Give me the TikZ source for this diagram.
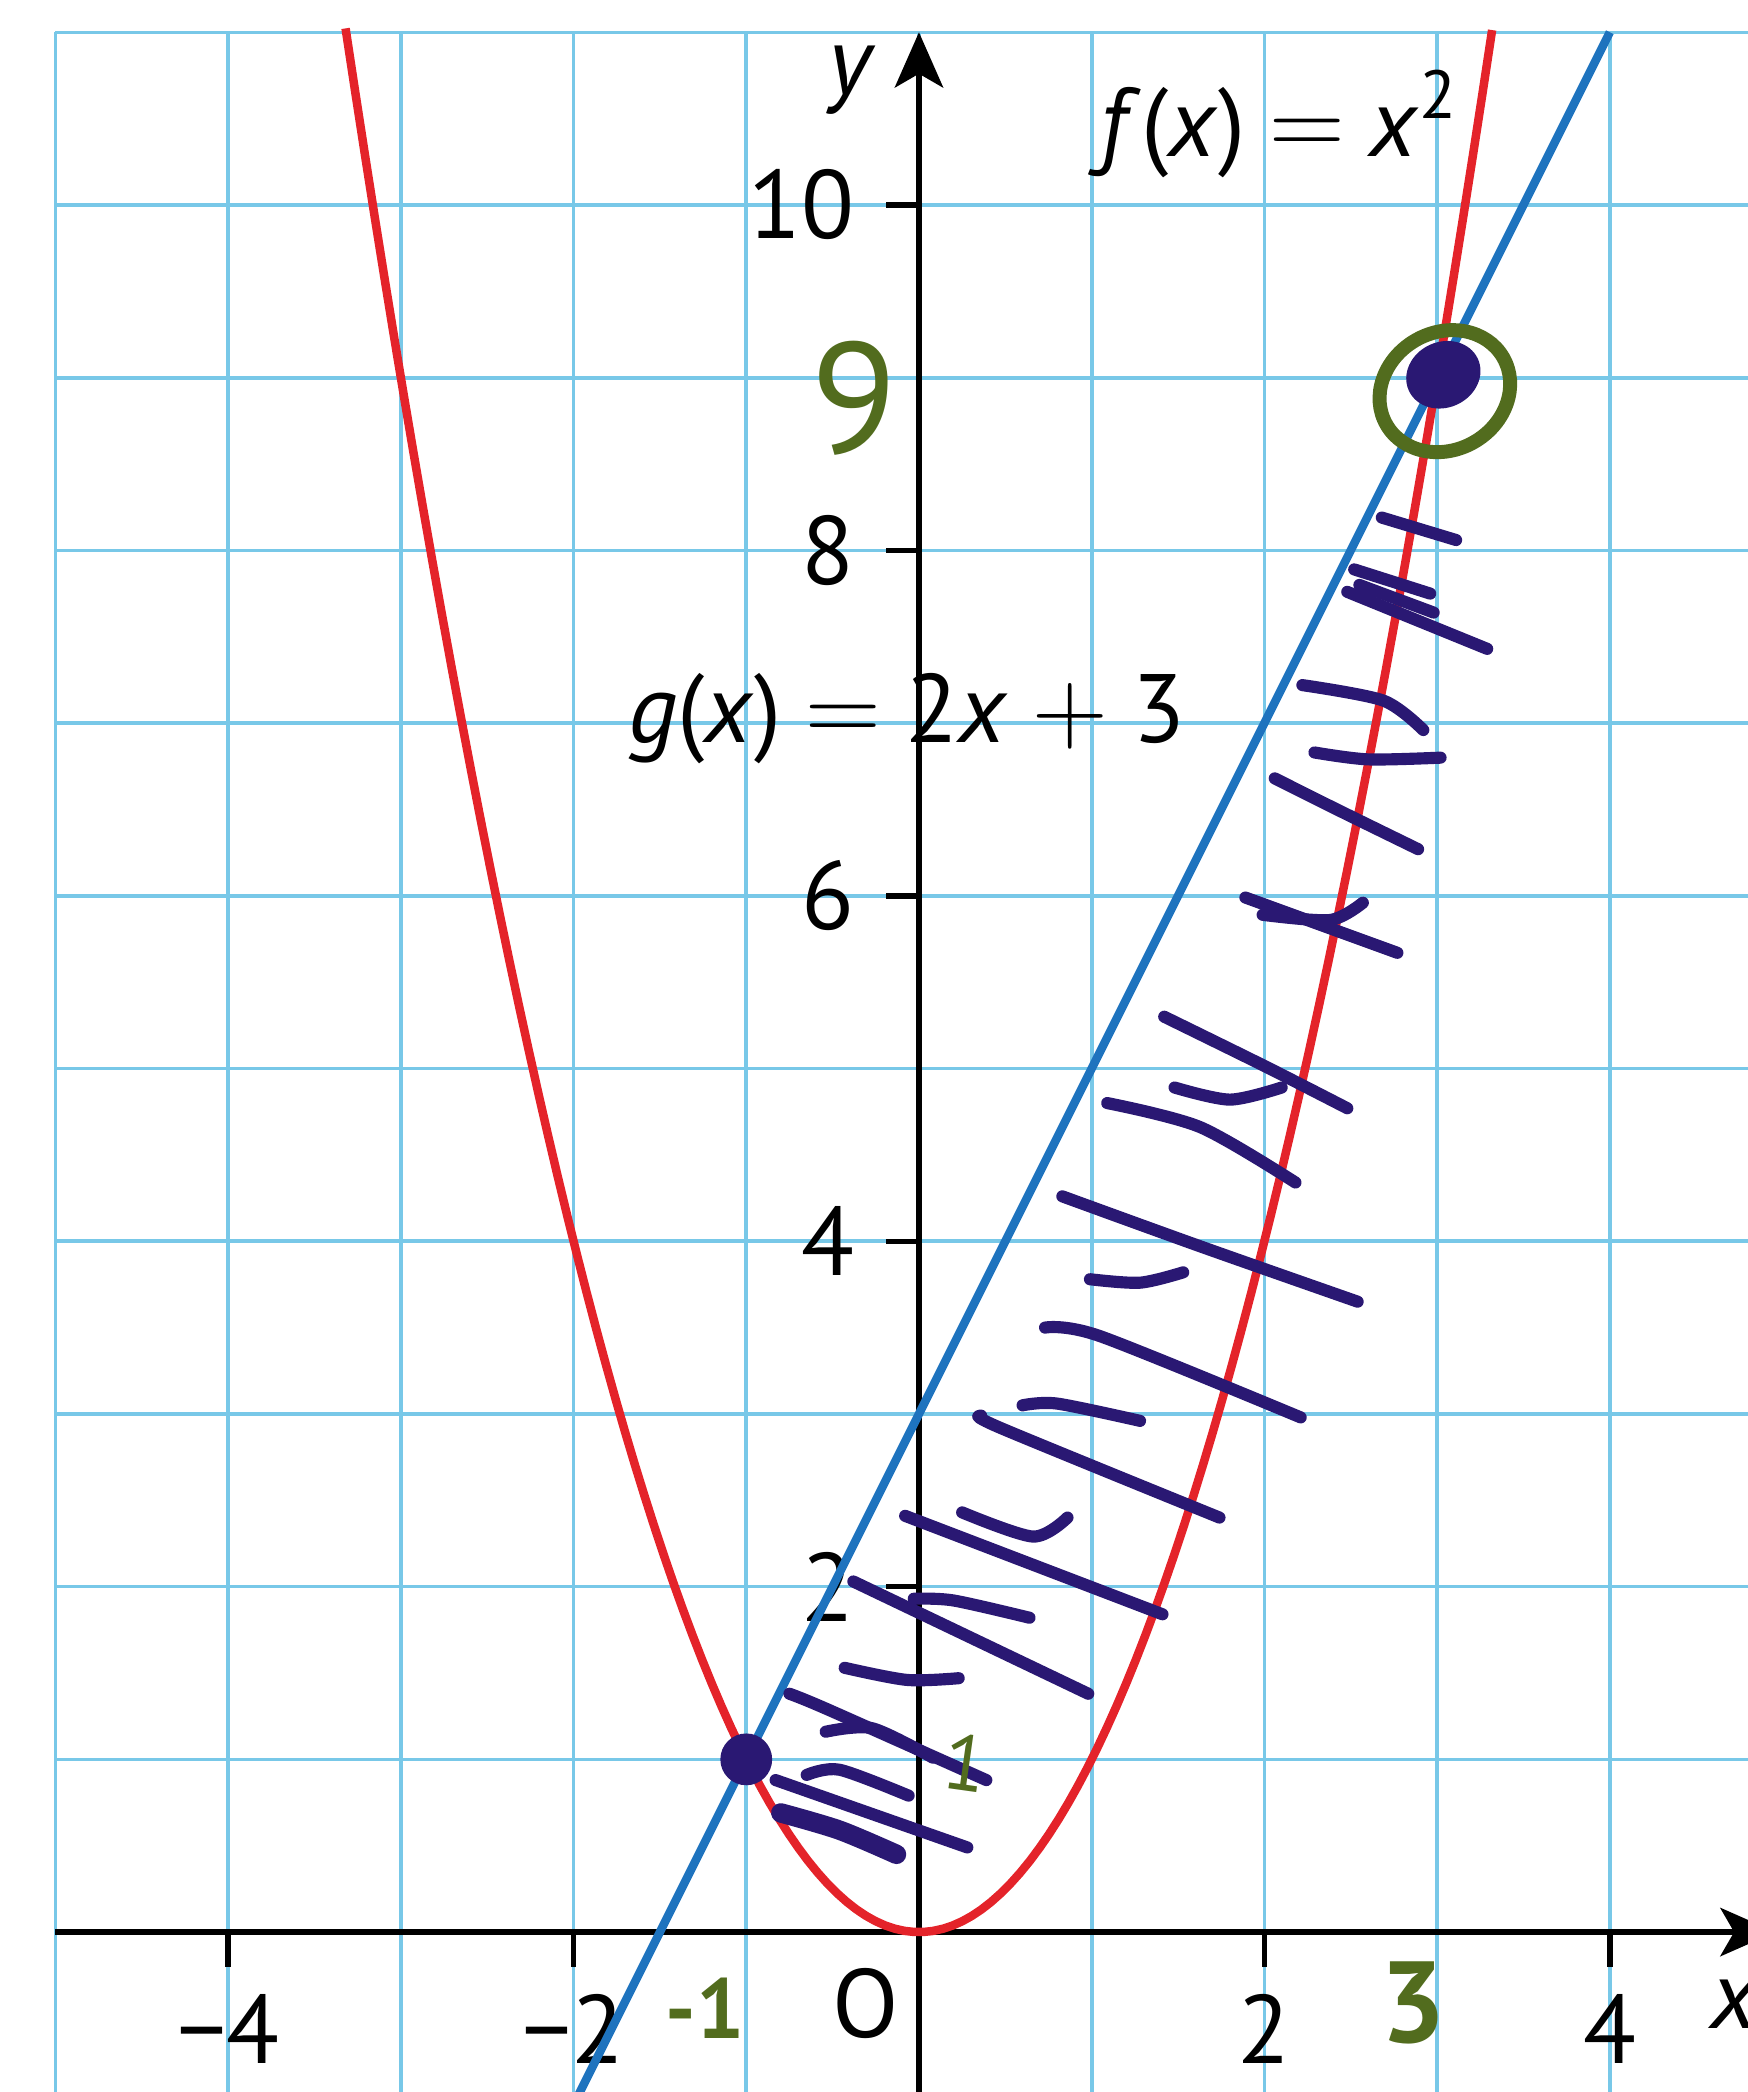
\documentclass[tikz,border=0pt]{standalone}
\usepackage{fontspec}
\setmainfont{PT Sans}
\usetikzlibrary{arrows.meta}
\definecolor{gridblue}{RGB}{120,200,232}
\definecolor{fred}{RGB}{228,35,42}
\definecolor{gblue}{RGB}{30,115,190}
\definecolor{inkblue}{RGB}{42,24,115}
\definecolor{inkgreen}{RGB}{82,108,30}
\tikzset{
	gridline/.style={gridblue, line width=0.6pt},
	axis/.style={black, line width=0.9pt},
	graph/.style={line width=1.4pt},
	hatch/.style={inkblue, line width=2pt, line cap=round, line join=round},
	lab/.style={inner sep=0pt, font=\fontsize{16}{19}\selectfont},
	hand/.style={inner sep=0pt, text=inkgreen, font=\bfseries\fontsize{#1}{#1}\selectfont},
}
\begin{document}
\begin{tikzpicture}
	\useasboundingbox (-5.321,-0.926) rectangle (4.795,11.187);
	\draw[gridline] (-5,-0.93) grid (4.8,11);
	\path
	(-5,0) coordinate (xs)
	(4.96,0) coordinate (xe)
	(0,-0.93) coordinate (ys)
	(0,11) coordinate (ye)
	(-2,-1) coordinate (gs)
	(4,11) coordinate (ge)
	(-1,1) coordinate (P)
	(3,9) coordinate (Q);
	\draw[axis, -{Stealth[length=3.2mm, width=2.8mm, inset=0.8mm]}] (xs) -- (xe);
	\draw[axis, -{Stealth[length=3.2mm, width=2.8mm, inset=0.8mm]}] (ys) -- (ye);
	\foreach \k in {2,4,...,10}{
		\draw[axis] (-0.19,\k) -- (0,\k);
		\node[lab, anchor=east] (ty\k) at (-0.365,\k) {\k};
	}
	\foreach \k/\t/\n in {-4/−4/a, -2/−2/b, 2/2/c, 4/4/d}{
		\draw[axis] (\k,0) -- (\k,-0.2);
		\node[lab, anchor=north] (tx\n) at (\k,-0.353) {\t};
	}
	\node[lab, anchor=north] (orig) at (-0.31,-0.203) {O};
	\node[lab] (ylab) at (-0.40,10.72) {\itshape y};
	\node[lab] (xlab) at (4.72,-0.42) {\itshape x};
	\node[lab, anchor=base west] (flab) at (1.04,10.28)
		{\textit{f}(\textit{x})\hspace{.25em}$=$\hspace{.25em}\textit{x}\textsuperscript{2}};
	\node[lab, anchor=base west] (glab) at (-1.69,6.89)
		{\textit{g}(\textit{x})\hspace{.25em}$=$\hspace{.25em}2\textit{x}\hspace{.25em}$+$\hspace{.25em}3};
	% graphs
	\draw[graph, fred] plot[domain=-3.32:3.32, samples=120] (\x,{\x*\x});
	\draw[graph, gblue] (gs) -- (ge);
	% hatching
	\draw[hatch] (2.68,8.19) -- (3.11,8.06);
	\draw[hatch] (2.52,7.89) -- (2.96,7.75);
	\draw[hatch] (2.55,7.80) -- (2.98,7.64);
	\draw[hatch] (2.48,7.76) -- (3.29,7.43);
	\draw[hatch] plot[smooth] coordinates {(2.22,7.22) (2.69,7.13) (2.92,6.96)};
	\draw[hatch] plot[smooth] coordinates {(2.29,6.83) (2.60,6.79) (3.02,6.80)};
	\draw[hatch] plot[smooth] coordinates {(2.06,6.68) (2.42,6.50) (2.89,6.27)};
	\draw[hatch] (1.89,5.99) -- (2.77,5.67);
	\draw[hatch] plot[smooth] coordinates {(1.99,5.89) (2.38,5.86) (2.57,5.96)};
	\draw[hatch] plot[smooth] coordinates {(1.42,5.30) (2.01,5.01) (2.48,4.77)};
	\draw[hatch] plot[smooth] coordinates {(1.48,4.89) (1.80,4.82) (2.10,4.89)};
	\draw[hatch] plot[smooth] coordinates {(1.09,4.80) (1.63,4.66) (2.18,4.34)};
	\draw[hatch] plot[smooth] coordinates {(0.83,4.26) (1.63,3.97) (2.54,3.65)};
	\draw[hatch] plot[smooth] coordinates {(0.99,3.78) (1.28,3.76) (1.53,3.82)};
	\draw[hatch] plot[smooth] coordinates {(0.73,3.50) (1.05,3.45) (2.21,2.98)};
	\draw[hatch] plot[smooth] coordinates {(0.60,3.05) (0.80,3.06) (1.28,2.96)};
	\draw[hatch] plot[smooth] coordinates {(0.36,2.99) (0.47,2.92) (1.74,2.40)};
	\draw[hatch] (-0.08,2.41) -- (1.41,1.84);
	\draw[hatch] plot[smooth] coordinates {(0.25,2.43) (0.66,2.29) (0.86,2.40)};
	\draw[hatch] (-0.38,2.03) -- (0.98,1.38);
	\draw[hatch] plot[smooth] coordinates {(-0.03,1.93) (0.20,1.92) (0.64,1.82)};
	\draw[hatch] plot[smooth] coordinates {(-0.43,1.53) (-0.07,1.46) (0.23,1.47)};
	\draw[hatch] plot[smooth] coordinates {(-0.75,1.38) (-0.53,1.29) (0.39,0.88)};
	\draw[hatch] plot[smooth] coordinates {(-0.54,1.16) (-0.27,1.18) (0.08,1.01)};
	\draw[hatch] (-0.83,0.88) -- (0.28,0.49);
	\draw[hatch] plot[smooth] coordinates {(-0.65,0.91) (-0.46,0.94) (-0.06,0.79)};
	\draw[hatch, line width=3.2pt] plot[smooth] coordinates {(-0.80,0.69) (-0.46,0.59) (-0.13,0.45)};
	% points
	\fill[inkblue] (P) circle (0.15);
	\fill[inkblue, rotate around={25:(Q)}] ([xshift=0.4mm]Q) ellipse (0.22 and 0.19);
	\draw[inkgreen, line width=2.3pt, rotate around={30:(Q)}] ([yshift=-0.9mm]Q) ellipse (0.39 and 0.34);
	\node[hand=26, font=\fontsize{26}{26}\selectfont] (nine) at (-0.376,8.88) {9};
	\node[hand=19] (three) at (2.86,-0.41) {3};
	\node[hand=14] (mone) at (-1.24,-0.44) {-1};
	\node[hand=13, font=\fontsize{13}{13}\selectfont, rotate=-8] (one) at (0.27,0.98) {1};
\end{tikzpicture}
\end{document}
